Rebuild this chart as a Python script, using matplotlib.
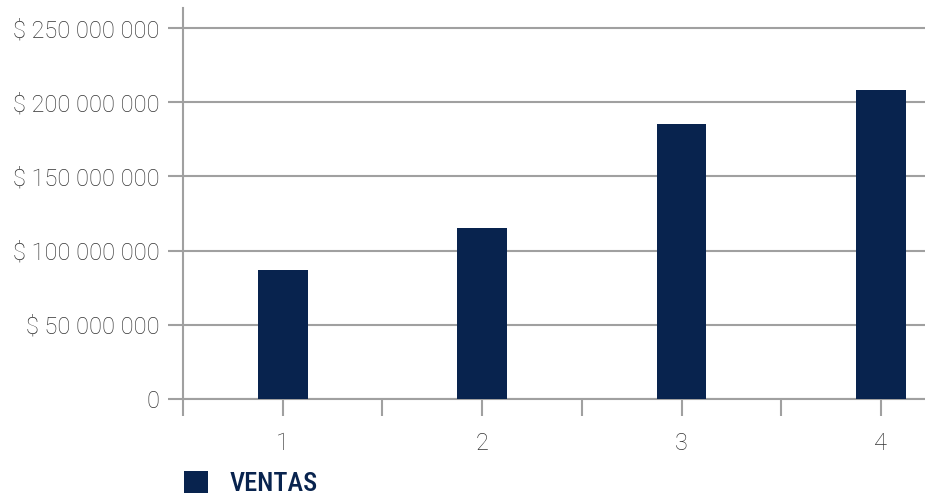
import matplotlib
matplotlib.use('Agg')
import matplotlib.pyplot as plt
from matplotlib.ticker import FuncFormatter, MultipleLocator

# datos
periodos = [1, 2, 3, 4]
etiquetas = ['1', '2', '3', '4']
ventas = [87_000_000, 115_500_000, 185_500_000, 208_500_000]
serie = 'VENTAS'

azul = '#08234e'
gris_texto = '#333333'
gris_linea = '#a0a0a0'

plt.rcParams['font.family'] = ['Roboto', 'DejaVu Sans']

fig = plt.figure(figsize=(9.25, 5), dpi=100)
ax = fig.add_axes([183/925, 1 - 399/500, 1 - 183/925, (399 - 8)/500])

ax.bar(periodos, ventas, width=0.25, color=azul, label=serie, zorder=3)

ax.set_xlim(0.5, 0.5 + (925 - 183)/199.4)
ax.set_ylim(0, 263_500_000)

ax.yaxis.set_major_locator(MultipleLocator(50_000_000))
def fmt(v, pos):
    if v == 0:
        return '0'
    return '$ ' + f'{int(v):,}'.replace(',', ' ')
ax.yaxis.set_major_formatter(FuncFormatter(fmt))
ax.grid(axis='y', color=gris_linea, linewidth=1.5, zorder=0)

# marcas cada media unidad, etiqueta solo en cada periodo
ax.set_xticks([0.5, 1, 1.5, 2, 2.5, 3, 3.5, 4])
ax.set_xticklabels(['', etiquetas[0], '', etiquetas[1], '', etiquetas[2], '', etiquetas[3]])

for s in ['top', 'right']:
    ax.spines[s].set_visible(False)
for s in ['left', 'bottom']:
    ax.spines[s].set_color(gris_linea)
    ax.spines[s].set_linewidth(1.5)

ax.tick_params(axis='y', length=11, width=1.5, color=gris_linea, labelcolor=gris_texto,
               labelsize=17, pad=6)
ax.tick_params(axis='x', length=12, width=1.5, color=gris_linea, labelcolor=gris_texto,
               labelsize=17, pad=12)
for t in ax.get_xticklabels() + ax.get_yticklabels():
    t.set_fontweight('light')

leg = ax.legend(loc='upper left', bbox_to_anchor=(160/925, 1 - 447/500), bbox_transform=fig.transFigure,
                frameon=False, handlelength=0.9, handleheight=0.9, handletextpad=0.85,
                prop={'size': 19, 'weight': 'medium',
                      'family': ['Roboto Condensed', 'Roboto', 'DejaVu Sans']})
for t in leg.get_texts():
    t.set_color(azul)

fig.savefig('out.png', dpi=100)
